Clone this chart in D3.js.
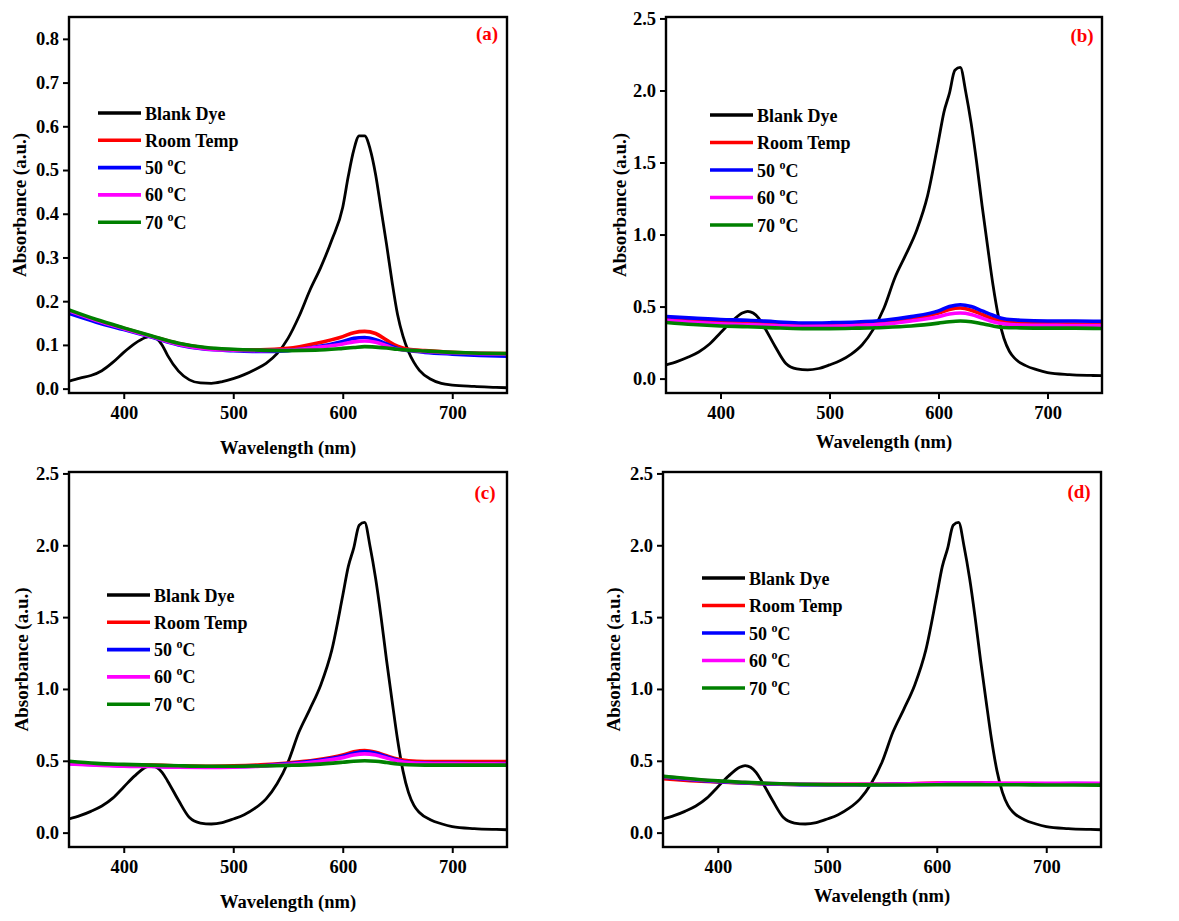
<!DOCTYPE html>
<html lang="en">
<head>
    <meta charset="UTF-8">
    <title>Absorbance spectra</title>
    <script src="https://d3js.org/d3.v7.min.js"></script>
    <style>
        body { margin: 0; background: #fff; }
        text { font-family: "Liberation Serif", "Times New Roman", serif; font-weight: bold; }
        .tick text { font-size: 18.5px; }
        .axis_title { font-size: 18.5px; }
        .y_title { font-size: 19px; }
        .legend_text { font-size: 18px; }
        .panel_label { font-size: 19px; fill: #ff0000; }
    </style>
</head>
<body>
<svg width="1179" height="921"></svg>

<script>
    // wavelength grids (nm)
    const blankWl = [350,360,370,380,390,400,410,420,425,430,435,440,450,460,470,480,490,500,510,520,530,540,550,560,570,580,590,600,605,610,615,620,625,630,635,640,645,650,655,660,665,670,680,690,700,720,740,750];
    const tempWl = [350,375,400,425,450,475,500,525,550,575,600,610,620,630,640,650,660,675,700,725,750];

    // blank dye, panel (a)
    const blankA = [0.017,0.024,0.03,0.041,0.06,0.083,0.103,0.117,0.12,0.115,0.1,0.076,0.04,0.02,0.013,0.012,0.016,0.023,0.032,0.044,0.058,0.08,0.115,0.165,0.225,0.278,0.34,0.415,0.485,0.545,0.578,0.578,0.548,0.49,0.41,0.33,0.245,0.17,0.12,0.085,0.06,0.042,0.022,0.012,0.008,0.005,0.003,0.002];
    // blank dye, panels (b)(c)(d)
    const blankB = [0.095,0.118,0.148,0.185,0.24,0.318,0.395,0.455,0.467,0.455,0.42,0.36,0.225,0.105,0.067,0.06,0.07,0.095,0.125,0.17,0.235,0.34,0.49,0.7,0.86,1.03,1.27,1.65,1.85,1.98,2.14,2.16,1.99,1.77,1.5,1.2,0.92,0.65,0.43,0.28,0.19,0.14,0.09,0.062,0.042,0.028,0.022,0.02];

    // panel (a)
    const rtA  = [0.178,0.155,0.138,0.12,0.103,0.093,0.089,0.089,0.092,0.103,0.119,0.128,0.131,0.126,0.111,0.097,0.09,0.087,0.083,0.081,0.08];
    const t50A = [0.172,0.152,0.135,0.118,0.1,0.09,0.087,0.085,0.087,0.095,0.108,0.115,0.117,0.112,0.102,0.092,0.087,0.083,0.079,0.076,0.074];
    const t60A = [0.178,0.156,0.137,0.119,0.101,0.091,0.088,0.087,0.088,0.094,0.102,0.107,0.109,0.106,0.098,0.09,0.088,0.085,0.082,0.08,0.079];
    const t70A = [0.18,0.158,0.139,0.121,0.104,0.094,0.09,0.088,0.087,0.088,0.092,0.094,0.096,0.095,0.093,0.09,0.088,0.086,0.083,0.081,0.08];

    // panel (b)
    const rtB  = [0.41,0.4,0.39,0.385,0.375,0.37,0.372,0.378,0.39,0.415,0.455,0.48,0.49,0.475,0.445,0.415,0.395,0.385,0.38,0.378,0.375];
    const t50B = [0.43,0.42,0.41,0.405,0.395,0.386,0.388,0.393,0.405,0.43,0.47,0.5,0.513,0.5,0.47,0.44,0.415,0.405,0.4,0.4,0.398];
    const t60B = [0.405,0.39,0.38,0.375,0.368,0.362,0.363,0.368,0.378,0.4,0.43,0.448,0.455,0.445,0.42,0.395,0.38,0.372,0.37,0.368,0.368];
    const t70B = [0.39,0.375,0.365,0.36,0.352,0.347,0.347,0.35,0.355,0.365,0.385,0.395,0.4,0.395,0.38,0.365,0.355,0.352,0.35,0.35,0.348];

    // panel (c)
    const rtC  = [0.485,0.475,0.47,0.47,0.465,0.462,0.465,0.472,0.485,0.505,0.54,0.562,0.572,0.56,0.535,0.512,0.5,0.495,0.495,0.495,0.495];
    const t50C = [0.48,0.472,0.465,0.462,0.457,0.455,0.458,0.465,0.48,0.5,0.532,0.553,0.562,0.552,0.528,0.505,0.49,0.485,0.482,0.481,0.48];
    const t60C = [0.478,0.47,0.463,0.46,0.455,0.454,0.456,0.462,0.475,0.493,0.522,0.54,0.548,0.54,0.52,0.5,0.487,0.482,0.48,0.479,0.478];
    const t70C = [0.497,0.482,0.475,0.47,0.465,0.462,0.462,0.464,0.468,0.475,0.49,0.497,0.5,0.497,0.488,0.478,0.472,0.47,0.47,0.47,0.47];

    // panel (d)
    const rtD  = [0.375,0.362,0.352,0.345,0.338,0.335,0.335,0.336,0.337,0.34,0.345,0.347,0.347,0.346,0.345,0.343,0.342,0.341,0.34,0.34,0.34];
    const t50D = [0.385,0.368,0.355,0.345,0.338,0.334,0.333,0.333,0.334,0.337,0.34,0.342,0.342,0.342,0.341,0.341,0.34,0.34,0.34,0.341,0.34];
    const t60D = [0.39,0.372,0.358,0.348,0.341,0.337,0.336,0.336,0.337,0.34,0.344,0.346,0.346,0.346,0.345,0.345,0.344,0.344,0.344,0.344,0.344];
    const t70D = [0.392,0.375,0.36,0.35,0.342,0.337,0.334,0.333,0.332,0.332,0.333,0.334,0.334,0.334,0.334,0.333,0.333,0.333,0.332,0.332,0.331];

    const seriesNames = ["Blank Dye", "Room Temp", "50 °C", "60 °C", "70 °C"];
    const seriesColors = ["#000000", "#ff0000", "#0000ff", "#ff00ff", "#008000"];
    const xTicks = [400, 500, 600, 700];
    const yTicksA = [0, 0.1, 0.2, 0.3, 0.4, 0.5, 0.6, 0.7, 0.8];
    const yTicksB = [0, 0.5, 1.0, 1.5, 2.0, 2.5];

    // layout of each panel (frame box, legend anchor, title offsets)
    const panels = [
        {label: "(a)", box: [69, 17, 507, 393], yDom: [-0.01, 0.85], yTicks: yTicksA,
         blank: blankA, temps: [rtA, t50A, t60A, t70A], leg: [98, 113, 27.3], lab: [487, 40], yt: 19, xt: 61},
        {label: "(b)", box: [666, 17, 1102, 393], yDom: [-0.1, 2.51], yTicks: yTicksB,
         blank: blankB, temps: [rtB, t50B, t60B, t70B], leg: [710, 115, 27.5], lab: [1082, 42], yt: 619, xt: 55},
        {label: "(c)", box: [69, 472, 507, 847], yDom: [-0.1, 2.51], yTicks: yTicksB,
         blank: blankB, temps: [rtC, t50C, t60C, t70C], leg: [107, 595, 27.3], lab: [485, 499], yt: 21, xt: 61},
        {label: "(d)", box: [663, 472, 1101, 847], yDom: [-0.1, 2.51], yTicks: yTicksB,
         blank: blankB, temps: [rtD, t50D, t60D, t70D], leg: [702, 578, 27.5], lab: [1079, 498], yt: 613, xt: 55}
    ];

    let svg = d3.select("svg");

    panels.forEach(function (p) {
        const [x0, y0, x1, y1] = p.box;
        const x = d3.scaleLinear().domain([350, 750]).range([x0, x1]);
        const y = d3.scaleLinear().domain(p.yDom).range([y1, y0]);
        const g = svg.append("g");

        const clipId = "clip" + p.label.replace(/[()]/g, "");
        g.append("clipPath").attr("id", clipId)
            .append("rect").attr("x", x0).attr("y", y0).attr("width", x1 - x0).attr("height", y1 - y0);

        // axes
        g.append("g").attr("transform", "translate(0," + y1 + ")")
            .call(d3.axisBottom(x).tickValues(xTicks).tickSize(6).tickPadding(7).tickFormat(d3.format("d")))
            .call(a => a.select(".domain").remove());
        g.append("g").attr("transform", "translate(" + x0 + ",0)")
            .call(d3.axisLeft(y).tickValues(p.yTicks).tickSize(6).tickPadding(4).tickFormat(d3.format(".1f")))
            .call(a => a.select(".domain").remove());
        g.selectAll(".tick line").attr("stroke", "#000").attr("stroke-width", 2);
        g.selectAll(".tick text").attr("fill", "#000");

        // curves
        const line = d3.line().x(d => x(d[0])).y(d => y(d[1])).curve(d3.curveMonotoneX);
        const plotG = g.append("g").attr("clip-path", "url(#" + clipId + ")");
        plotG.append("path")
            .attr("d", line(blankWl.map((w, i) => [w, p.blank[i]])))
            .attr("fill", "none").attr("stroke", seriesColors[0]).attr("stroke-width", 2.8)
            .attr("stroke-linejoin", "round");
        p.temps.forEach(function (vals, k) {
            plotG.append("path")
                .attr("d", line(tempWl.map((w, i) => [w, vals[i]])))
                .attr("fill", "none").attr("stroke", seriesColors[k + 1]).attr("stroke-width", 3.6)
                .attr("stroke-linejoin", "round");
        });

        // frame
        g.append("rect").attr("x", x0).attr("y", y0).attr("width", x1 - x0).attr("height", y1 - y0)
            .attr("fill", "none").attr("stroke", "#000").attr("stroke-width", 2.4);

        // titles
        g.append("text").attr("class", "axis_title")
            .attr("x", (x0 + x1) / 2).attr("y", y1 + p.xt)
            .attr("text-anchor", "middle").text("Wavelength (nm)");
        g.append("text").attr("class", "y_title")
            .attr("transform", "translate(" + p.yt + "," + (y0 + y1) / 2 + ") rotate(-90)")
            .attr("text-anchor", "middle").attr("dy", "0.35em").text("Absorbance (a.u.)");
        g.append("text").attr("class", "panel_label")
            .attr("x", p.lab[0]).attr("y", p.lab[1]).attr("text-anchor", "middle").text(p.label);

        // legend
        const [lx, ly, step] = p.leg;
        seriesNames.forEach(function (name, k) {
            const yy = ly + k * step;
            g.append("line").attr("x1", lx).attr("x2", lx + 43).attr("y1", yy).attr("y2", yy)
                .attr("stroke", seriesColors[k]).attr("stroke-width", 3.6);
            const t = g.append("text").attr("class", "legend_text")
                .attr("x", lx + 47).attr("y", yy + 6.5);
            if (name.indexOf("°C") > 0) {
                t.append("tspan").text(name.split(" ")[0] + " ");
                t.append("tspan").attr("dy", -8).style("font-size", "12px").text("o");
                t.append("tspan").attr("dy", 8).text("C");
            } else {
                t.text(name);
            }
        });
    });
</script>
</body>
</html>
